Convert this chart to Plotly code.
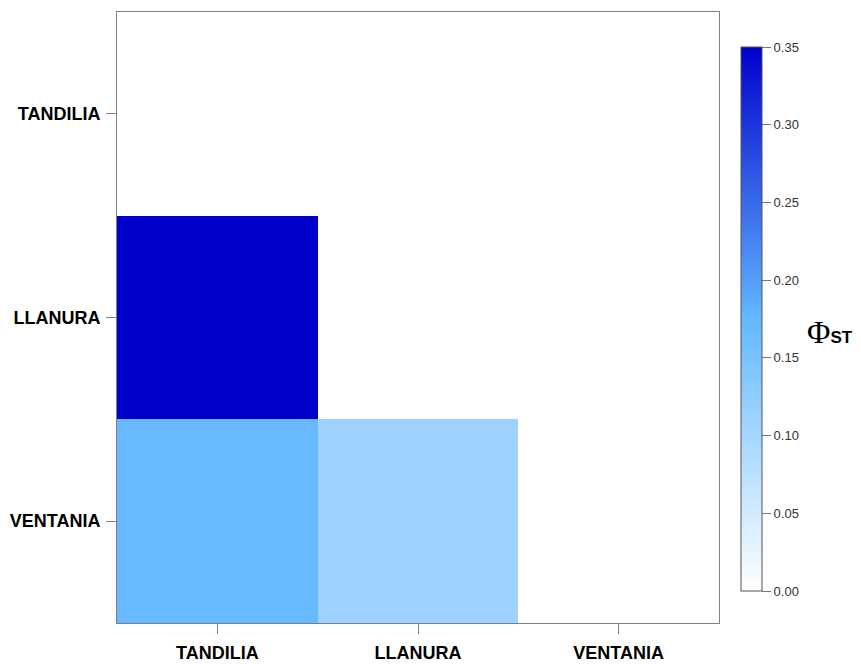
import plotly.graph_objects as go

x_labels = ["TANDILIA", "LLANURA", "VENTANIA"]
y_labels = ["TANDILIA", "LLANURA", "VENTANIA"]
# rows follow y_labels (top to bottom), columns follow x_labels
row_tandilia = [None, None, None]
row_llanura = [0.35, None, None]
row_ventania = [0.17, 0.11, None]
z = [row_tandilia, row_llanura, row_ventania]
cb_ticks = [0.0, 0.05, 0.10, 0.15, 0.20, 0.25, 0.30, 0.35]

OFF = 8  # page body margin
L, R, T, B = 117 - OFF, 719 - OFF, 12 - OFF, 623 - OFF
W, H = 861 - OFF, 664 - OFF
PW, PH = R - L, B - T

fig = go.Figure(go.Heatmap(
    z=z, x=x_labels, y=y_labels,
    zmin=0, zmax=0.35,
    colorscale=[[0, "#FFFFFF"], [0.5, "#63B8FF"], [1, "#0000CD"]],
    hoverongaps=False,
    colorbar=dict(
        x=(741 - OFF - L) / PW, xanchor="left",
        y=(B - (47 - OFF)) / PH, yanchor="top",
        lenmode="pixels", len=544,
        thickness=21, thicknessmode="pixels",
        outlinecolor="#555555", outlinewidth=1,
        tickvals=cb_ticks,
        ticktext=[f"{v:.2f}" for v in cb_ticks],
        ticks="outside", ticklen=9, tickcolor="#777777",
        tickfont=dict(family="Arial, Liberation Sans", size=13, color="#333333"),
        xpad=0, ypad=0,
    ),
))

fig.update_layout(
    width=W, height=H,
    margin=dict(l=L, r=W - R, t=T, b=H - B, autoexpand=False),
    paper_bgcolor="white", plot_bgcolor="white",
    font=dict(family="Arial, Liberation Sans"),
    annotations=[dict(
        xref="paper", yref="paper",
        x=(805 - OFF - L) / PW, y=(B - (332 - OFF)) / PH, xanchor="left", yanchor="middle",
        text="<span style='font-size:32px;font-family:Liberation Serif'>Φ</span><span style='font-size:17px;font-weight:bold'>ST</span>",
        showarrow=False, font=dict(color="black"),
    )],
)
fig.update_xaxes(
    type="category", categoryorder="array", categoryarray=x_labels,
    showline=True, mirror=True, linecolor="#808080", linewidth=1,
    ticks="outside", ticklen=10, tickcolor="#808080",
    tickfont=dict(size=18, color="black", weight="bold"),
    ticklabelstandoff=3,
    showgrid=False, zeroline=False,
)
fig.update_yaxes(
    type="category", categoryorder="array", categoryarray=y_labels[::-1],
    showline=True, mirror=True, linecolor="#808080", linewidth=1,
    ticks="outside", ticklen=10, tickcolor="#808080",
    tickfont=dict(size=18, color="black", weight="bold"),
    ticklabelstandoff=2,
    showgrid=False, zeroline=False,
)

fig.write_html("out.html")
